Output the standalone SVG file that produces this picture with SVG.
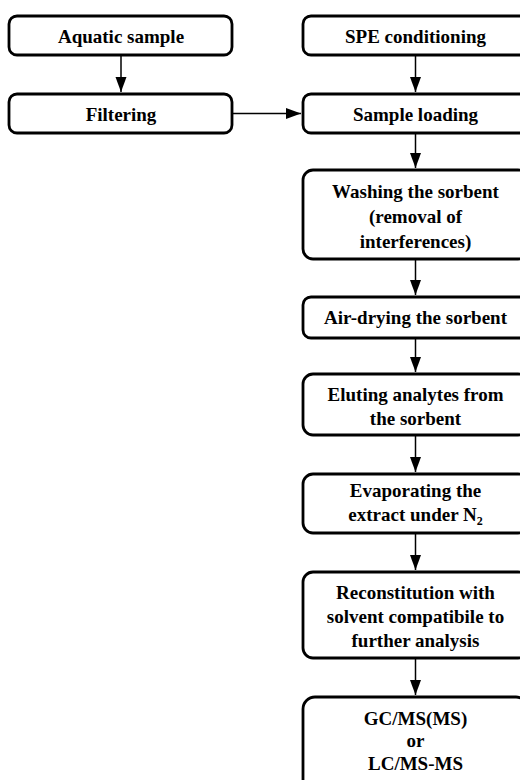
<svg xmlns="http://www.w3.org/2000/svg" width="520" height="780" viewBox="0 0 520 780">
<style>
.box{fill:#fff;stroke:#000;stroke-width:2.8}
.t{font-family:"Liberation Serif","Times New Roman",serif;font-weight:bold;font-size:19px;text-anchor:middle;fill:#000}
.c{stroke:#000;stroke-width:1.5;fill:none}
</style>
<defs>
<marker id="ah" markerUnits="userSpaceOnUse" markerWidth="16" markerHeight="12" refX="15" refY="6" orient="auto">
<path d="M0,0.5 L15,6 L0,11.5 Z" fill="#000"/>
</marker>
</defs>
<rect width="520" height="780" fill="#fff"/>
<g id="connectors">
<line class="c" x1="121" y1="56" x2="121" y2="92" marker-end="url(#ah)"/>
<line class="c" x1="415.5" y1="56" x2="415.5" y2="92" marker-end="url(#ah)"/>
<line class="c" x1="233" y1="113.5" x2="301" y2="113.5" marker-end="url(#ah)"/>
<line class="c" x1="415.5" y1="134" x2="415.5" y2="168" marker-end="url(#ah)"/>
<line class="c" x1="415.5" y1="260" x2="415.5" y2="295" marker-end="url(#ah)"/>
<line class="c" x1="415.5" y1="339" x2="415.5" y2="372" marker-end="url(#ah)"/>
<line class="c" x1="415.5" y1="436" x2="415.5" y2="472" marker-end="url(#ah)"/>
<line class="c" x1="415.5" y1="534" x2="415.5" y2="570" marker-end="url(#ah)"/>
<line class="c" x1="415.5" y1="659" x2="415.5" y2="695" marker-end="url(#ah)"/>
</g>
<g id="aquatic">
<rect class="box" x="9" y="16" width="223" height="39" rx="8"/>
<text class="t" x="121" y="43">Aquatic sample</text>
</g>
<g id="filtering">
<rect class="box" x="9" y="94" width="223" height="39" rx="8"/>
<text class="t" x="121" y="121">Filtering</text>
</g>
<g id="spe">
<rect class="box" x="303" y="16" width="225" height="39" rx="8"/>
<text class="t" x="415.5" y="43">SPE conditioning</text>
</g>
<g id="loading">
<rect class="box" x="303" y="94" width="225" height="39" rx="8"/>
<text class="t" x="415.5" y="121">Sample loading</text>
</g>
<g id="washing">
<rect class="box" x="303" y="170" width="225" height="89" rx="10"/>
<text class="t" x="415.5" y="198">Washing the sorbent</text>
<text class="t" x="415.5" y="223">(removal of</text>
<text class="t" x="415.5" y="248">interferences)</text>
</g>
<g id="airdrying">
<rect class="box" x="303" y="297" width="225" height="41" rx="8"/>
<text class="t" x="415.5" y="324">Air-drying the sorbent</text>
</g>
<g id="eluting">
<rect class="box" x="303" y="374" width="225" height="61" rx="10"/>
<text class="t" x="415.5" y="401">Eluting analytes from</text>
<text class="t" x="415.5" y="425">the sorbent</text>
</g>
<g id="evaporating">
<rect class="box" x="303" y="474" width="225" height="59" rx="10"/>
<text class="t" x="415.5" y="497">Evaporating the</text>
<text class="t" x="415.5" y="521">extract under N<tspan font-size="12" dy="4">2</tspan></text>
</g>
<g id="reconstitution">
<rect class="box" x="303" y="572" width="225" height="86" rx="10"/>
<text class="t" x="415.5" y="599">Reconstitution with</text>
<text class="t" x="415.5" y="623">solvent compatibile to</text>
<text class="t" x="415.5" y="647">further analysis</text>
</g>
<g id="gcms">
<rect class="box" x="303" y="697" width="225" height="95" rx="12"/>
<text class="t" x="415.5" y="725">GC/MS(MS)</text>
<text class="t" x="415.5" y="747">or</text>
<text class="t" x="415.5" y="770">LC/MS-MS</text>
</g>
</svg>
